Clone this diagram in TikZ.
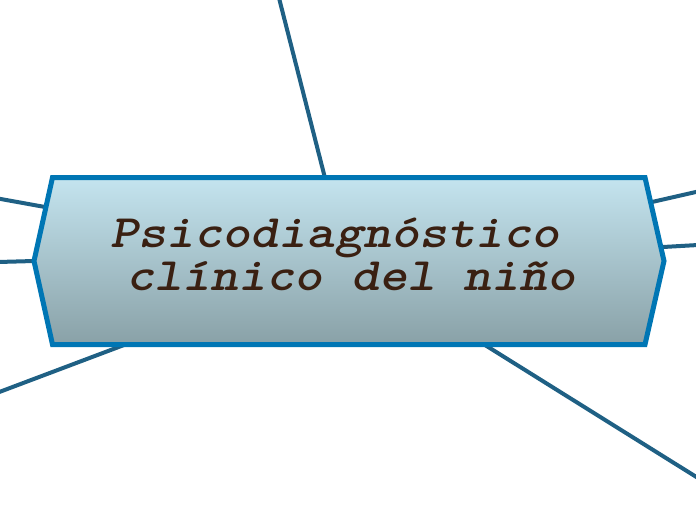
\documentclass[tikz,border=0pt]{standalone}
\usepackage{fontspec}
\definecolor{linkc}{RGB}{31,96,132}
\definecolor{borderc}{RGB}{0,118,180}
\definecolor{topc}{RGB}{196,228,239}
\definecolor{botc}{RGB}{137,161,167}
\definecolor{textc}{RGB}{58,32,18}
\newcommand{\titletext}[1]{\scalebox{1.15}[1]{#1}}
\tikzset{
  link/.style={draw=linkc, line width=4pt},
  mainbox/.style={draw=borderc, line width=5pt, line join=miter, top color=topc, bottom color=botc},
  title/.style={font=\ttfamily\bfseries\itshape\fontsize{46.5}{50}\selectfont, text=textc, inner sep=0pt, anchor=base}
}
\begin{document}
\begin{tikzpicture}[x=1pt,y=-1pt]
\useasboundingbox (0,0) rectangle (696,520);
% border points
\coordinate (b1) at (325,178);
\coordinate (b2) at (45,207);
\coordinate (b3) at (34,261);
\coordinate (b4) at (124,345);
\coordinate (b5) at (652,202);
\coordinate (b6) at (663,247);
\coordinate (b7) at (485,345);
% outer ends
\coordinate (e1) at (279,-2);
\coordinate (e2) at (-2,198.5);
\coordinate (e3) at (-2,262);
\coordinate (e4) at (-2,392.5);
\coordinate (e5) at (698,191.5);
\coordinate (e6) at (698,245);
\coordinate (e7) at (698,478);
\foreach \i in {1,...,7} { \draw[link] (b\i) -- (e\i); }
% hexagon
\coordinate (h1) at (52.5,177.5);
\coordinate (h2) at (645,177.5);
\coordinate (h3) at (664,261);
\coordinate (h4) at (645,344.5);
\coordinate (h5) at (52.5,344.5);
\coordinate (h6) at (34,261);
\path[mainbox] (h1) -- (h2) -- (h3) -- (h4) -- (h5) -- (h6) -- cycle;
\node[title] (t1) at (335,247) {\titletext{Psicodiagnóstico}};
\node[title] (t2) at (351,290) {\titletext{clínico del niño}};
\end{tikzpicture}
\end{document}
